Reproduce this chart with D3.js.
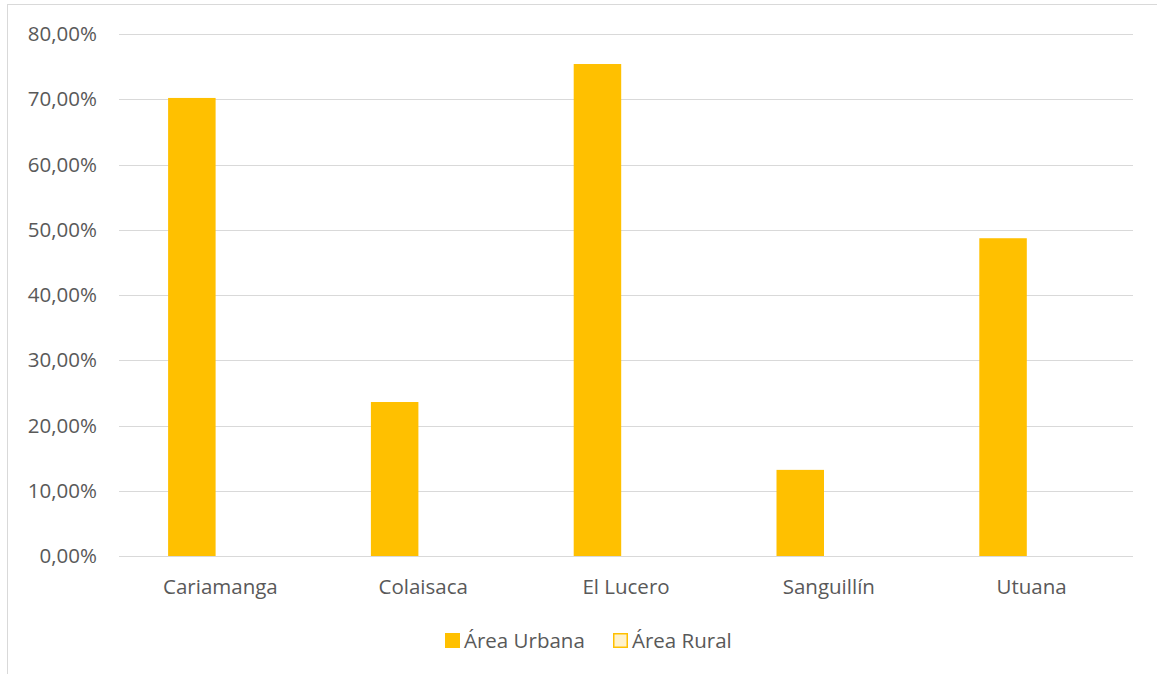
<!DOCTYPE html>
<html>
<head>
<meta charset="utf-8">
<script src="https://cdn.jsdelivr.net/npm/d3@7"></script>
<style>
  html, body { margin: 0; padding: 0; background: #fff; }
  svg { display: block; font-family: "Open Sans", "Noto Sans", sans-serif; }
</style>
</head>
<body>
<svg id="chart" width="1157" height="674"></svg>
<script>
const categories = ["Cariamanga", "Colaisaca", "El Lucero", "Sanguillín", "Utuana"];
const urbana = [0.702, 0.236, 0.754, 0.132, 0.487];
const rural = [0, 0, 0, 0, 0];
const seriesNames = ["Área Urbana", "Área Rural"];
const yTicks = [0, 0.1, 0.2, 0.3, 0.4, 0.5, 0.6, 0.7, 0.8];

(function () {
const svg = d3.select("#chart");
const W = 1157, H = 674;
const pLeft = 119, pRight = 1133, pTop = 34, pBottom = 556;
const FS = 20.5;

svg.append("rect")
  .attr("x", 7.5).attr("y", 4.5)
  .attr("width", W + 20).attr("height", H + 20)
  .attr("fill", "none").attr("stroke", "#d9d9d9").attr("stroke-width", 1);

const x = d3.scaleBand().domain(categories).range([pLeft, pRight]).padding(0);
const y = d3.scaleLinear().domain([0, 0.8]).range([pBottom, pTop]);

const fmt = v => (v * 100).toFixed(2).replace(".", ",") + "%";

svg.append("g").selectAll("line").data(yTicks).join("line")
  .attr("x1", pLeft).attr("x2", pRight)
  .attr("y1", d => Math.round(y(d)) + 0.5).attr("y2", d => Math.round(y(d)) + 0.5)
  .attr("stroke", "#d9d9d9").attr("stroke-width", 1);

const yAxis = d3.axisLeft(y).tickValues(yTicks).tickFormat(fmt).tickSize(0).tickPadding(0);
const yg = svg.append("g").attr("transform", `translate(97,0)`).call(yAxis);
yg.select(".domain").remove();
yg.selectAll("text").attr("fill", "#595959").attr("font-size", FS).attr("font-family", "Open Sans");

const xAxis = d3.axisBottom(x).tickSize(0).tickPadding(0);
const xg = svg.append("g").attr("transform", `translate(0,${pBottom + 23})`).call(xAxis);
xg.select(".domain").remove();
xg.selectAll("text").attr("fill", "#595959").attr("font-size", FS).attr("font-family", "Open Sans");

const barW = 47.5, innerGap = 9.6;
const sub = d3.scaleOrdinal().domain(seriesNames).range([-(barW + innerGap / 2), innerGap / 2]);
const colors = { "Área Urbana": "#ffc000", "Área Rural": "#fff2cc" };
const data = [];
categories.forEach((c, i) => {
  data.push({ cat: c, s: "Área Urbana", v: urbana[i] });
  data.push({ cat: c, s: "Área Rural", v: rural[i] });
});
svg.append("g").selectAll("rect").data(data.filter(d => d.v > 0)).join("rect")
  .attr("x", d => x(d.cat) + x.bandwidth() / 2 + sub(d.s))
  .attr("width", barW)
  .attr("y", d => y(d.v))
  .attr("height", d => y(0) - y(d.v))
  .attr("fill", d => colors[d.s]);

const legend = svg.append("g");
const legItems = [
  { name: "Área Urbana", x: 445, fill: "#ffc000", stroke: "#ffc000" },
  { name: "Área Rural", x: 613, fill: "#fff2cc", stroke: "#ffc000" }
];
legItems.forEach(it => {
  legend.append("rect").attr("x", it.x + 0.75).attr("y", 633.75).attr("width", 13.5).attr("height", 13.5)
    .attr("fill", it.fill).attr("stroke", it.stroke).attr("stroke-width", 1.5);
  legend.append("text").attr("x", it.x + 19).attr("y", 647.5)
    .attr("fill", "#595959").attr("font-size", FS).text(it.name);
});
})();
</script>
</body>
</html>
